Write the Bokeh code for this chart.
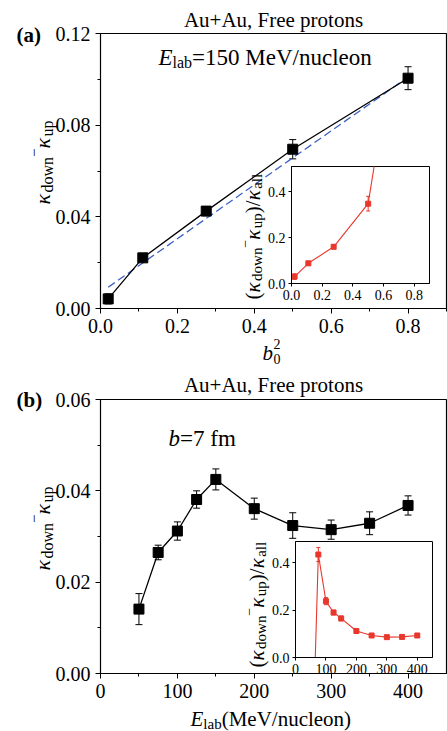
import math
from bokeh.plotting import figure
from bokeh.models import (ColumnDataSource, Whisker, TeeHead, Label, FixedTicker,
                          Range1d, NumeralTickFormatter)
from bokeh.layouts import column
from bokeh.embed import file_html
from bokeh.resources import INLINE

FONT = "Liberation Serif"
PAGE_W, PAGE_H = 447, 731
TEXT_DY = -6  # baseline correction of the text layer

# ---------------- data ----------------
# (a) centrality dependence at E_lab = 150 MeV/nucleon
b0sq = [0.02, 0.11, 0.275, 0.50, 0.80]
dk_b = [0.0042, 0.0221, 0.0425, 0.0695, 0.1005]
dk_b_err = [0.0022, 0.0016, 0.0020, 0.0042, 0.0050]
fit_b = [0.02, 0.80]
fit_dk = [0.0093, 0.1010]
ratio_b = [0.03, 0.088, 0.16, 0.348, 1.60]
ratio_b_err = [0.012, 0.008, 0.008, 0.032, 0.05]

# (b) beam-energy dependence at b = 7 fm
elab = [50, 75, 100, 125, 150, 200, 250, 300, 350, 400]
dk_e = [0.0141, 0.0265, 0.0312, 0.0381, 0.0425, 0.0361, 0.0324, 0.0315, 0.0329, 0.0368]
dk_e_err = [0.0034, 0.0016, 0.0020, 0.0019, 0.0023, 0.0023, 0.0028, 0.0021, 0.0025, 0.0021]
ratio_e = [-0.65, 0.435, 0.238, 0.19, 0.165, 0.112, 0.093, 0.086, 0.087, 0.093]
ratio_e_err = [0.05, 0.03, 0.015, 0.01, 0.01, 0.006, 0.006, 0.005, 0.005, 0.006]

# tick positions
xa_ticks, xa_minor = [0.0, 0.2, 0.4, 0.6, 0.8], [0.1, 0.3, 0.5, 0.7, 0.9]
ya_ticks, ya_minor = [0.0, 0.04, 0.08, 0.12], [0.02, 0.06, 0.10]
xb_ticks, xb_minor = [0, 100, 200, 300, 400], [50, 150, 250, 350]
yb_ticks, yb_minor = [0.0, 0.02, 0.04, 0.06], [0.01, 0.03, 0.05]
xa_in_ticks = [0.0, 0.2, 0.4, 0.6, 0.8]
xb_in_ticks = [0, 100, 200, 300, 400]
y_in_ticks = [0.0, 0.2, 0.4]

RED = "#e8372c"
BLUE = "#3d5fc4"
LEFT_BORDER, RIGHT_BORDER = 100, 1

# approximate advance widths (em) for serif text, used to chain text runs
ADV = {'0': .5, '1': .5, '2': .5, '5': .5, '7': .5, '.': .25, ',': .25, ' ': .25,
       '+': .564, '=': .564, '(': .333, ')': .333, '/': .278, 'A': .722, 'E': .611,
       'F': .556, 'M': .889, 'V': .722, 'a': .444, 'b': .5, 'c': .444, 'd': .5,
       'e': .444, 'f': .333, 'l': .278, 'm': .778, 'n': .5, 'o': .5, 'p': .5,
       'r': .333, 's': .389, 't': .278, 'u': .5, 'w': .722, '\u2212': .564, '\u03ba': .55}


def adv(text, size):
    return sum(ADV.get(c, .5) for c in text) * size


# ---------- text layer: a page-sized transparent canvas, data units = page pixels ----------
tp = figure(width=PAGE_W, height=PAGE_H,
            x_range=Range1d(0, PAGE_W), y_range=Range1d(0, PAGE_H),
            output_backend="svg", toolbar_location=None,
            x_axis_location=None, y_axis_location=None,
            min_border_left=0, min_border_right=0,
            min_border_top=0, min_border_bottom=0)
tp.grid.visible = False
tp.outline_line_color = None
tp.background_fill_alpha = 0
tp.border_fill_alpha = 0
tp.margin = (-PAGE_H, 0, 0, 0)


def put(px, py, text, size, style="normal", angle=0.0, align="left"):
    tp.add_layout(Label(x=px, y=PAGE_H - (py + TEXT_DY), text=text, text_font=FONT,
                        text_font_size=f"{size}px", text_font_style=style,
                        text_color="black", angle=angle, text_align=align,
                        text_baseline="alphabetic"))


def run(x0, y0, parts, vertical=False):
    """Chain text pieces (text, size, baseline shift, style) along one line."""
    pos = 0.0
    for text, size, shift, style in parts:
        if vertical:
            put(x0 + shift, y0 - pos, text, size, style, angle=math.pi / 2)
        else:
            put(x0 + pos, y0 + shift, text, size, style)
        pos += adv(text, size)


def run_length(parts):
    return sum(adv(t, s) for t, s, _, _ in parts)


def style_axes(p, xt, xm, yt, ym, xfmt, yfmt, size, tick_out, minor_out, standoff):
    p.xaxis.ticker = FixedTicker(ticks=xt, minor_ticks=xm)
    p.yaxis.ticker = FixedTicker(ticks=yt, minor_ticks=ym)
    p.xaxis.formatter = NumeralTickFormatter(format=xfmt)
    p.yaxis.formatter = NumeralTickFormatter(format=yfmt)
    for ax in (p.xaxis, p.yaxis):
        ax.major_label_text_font = FONT
        ax.major_label_text_font_size = f"{size}px"
        ax.major_label_text_color = "black"
        ax.major_tick_out = tick_out
        ax.major_tick_in = 0
        ax.minor_tick_out = minor_out
        ax.minor_tick_in = 0
        ax.major_tick_line_color = "black"
        ax.minor_tick_line_color = "black"
        ax.axis_line_color = "black"
        ax.major_label_standoff = standoff
    p.grid.visible = False
    p.outline_line_color = "black"
    p.outline_line_width = 1.2


def make_fig(width, height, top, bottom, xr, yr):
    p = figure(width=width, height=height, x_range=Range1d(*xr), y_range=Range1d(*yr),
               output_backend="svg", toolbar_location=None,
               min_border_left=LEFT_BORDER, min_border_right=RIGHT_BORDER,
               min_border_top=top, min_border_bottom=bottom)
    p.border_fill_alpha = 0
    p.background_fill_color = "white"
    return p


def errbars(p, x, y, e, color, head, width=1.0):
    src = ColumnDataSource(dict(x=x, lo=[a - b for a, b in zip(y, e)],
                                hi=[a + b for a, b in zip(y, e)]))
    p.add_layout(Whisker(source=src, base="x", lower="lo", upper="hi",
                         line_color=color, line_width=width,
                         upper_head=TeeHead(size=head, line_color=color, line_width=width),
                         lower_head=TeeHead(size=head, line_color=color, line_width=width)))


# ================= panel (a) =================
pa = make_fig(PAGE_W, 365, 33, 57, (0, 0.9), (0, 0.12))
pa.border_fill_color = "white"
pa.border_fill_alpha = 1
style_axes(pa, xa_ticks, xa_minor, ya_ticks, ya_minor, "0.0", "0.00", 20, 5, 3, 5)
pa.line(fit_b, fit_dk, line_color=BLUE, line_width=1.3, line_dash="8 4")
pa.line(b0sq, dk_b, line_color="black", line_width=1.3)
errbars(pa, b0sq, dk_b, dk_b_err, "black", 7)
pa.scatter(b0sq, dk_b, marker="square", size=10, color="black")

# inset (a): frame spans x 291..429, y 166..283 on the page
ia = make_fig(LEFT_BORDER + 138 + RIGHT_BORDER, 148, 5, 26, (0, 0.9), (0, 0.51))
style_axes(ia, xa_in_ticks, [], y_in_ticks, [], "0.0", "0.0", 14, 3, 0, 3)
ia.outline_line_width = 1.0
ia.line(b0sq, ratio_b, line_color=RED, line_width=1.1)
errbars(ia, b0sq, ratio_b, ratio_b_err, RED, 4)
ia.scatter(b0sq, ratio_b, marker="square", size=5, color=RED)
ia.margin = (161 - 365, 0, 0, 291 - LEFT_BORDER)

# ================= panel (b) =================
pb = make_fig(PAGE_W, 366, 34, 58, (0, 450), (0, 0.06))
pb.border_fill_color = "white"
pb.border_fill_alpha = 1
style_axes(pb, xb_ticks, xb_minor, yb_ticks, yb_minor, "0", "0.00", 20, 5, 3, 5)
pb.line(elab, dk_e, line_color="black", line_width=1.3)
errbars(pb, elab, dk_e, dk_e_err, "black", 7)
pb.scatter(elab, dk_e, marker="square", size=10, color="black")
pb.margin = (365 - (161 + 148), 0, 0, 0)

# inset (b): frame spans x 295..432, y 541..657 on the page
ib = make_fig(LEFT_BORDER + 137 + RIGHT_BORDER, 147, 5, 26, (0, 450), (0, 0.49))
style_axes(ib, xb_in_ticks, [], y_in_ticks, [], "0", "0.0", 14, 3, 0, 3)
ib.outline_line_width = 1.0
ib.line(elab, ratio_e, line_color=RED, line_width=1.1)
errbars(ib, elab, ratio_e, ratio_e_err, RED, 4)
ib.scatter(elab, ratio_e, marker="square", size=5, color=RED)
# bottom margin keeps the plot column exactly one page tall
ib.margin = (536 - PAGE_H, 0, PAGE_H - (536 + 147), 295 - LEFT_BORDER)

# ================= texts (page pixel positions) =================
ylab_main = [("\u03ba", 22, 0, "italic"), ("down", 16, 5, "normal"),
             ("\u2212", 15, -9, "normal"), ("\u03ba", 22, 0, "italic"),
             ("up", 16, 5, "normal")]
ylab_in = [("(", 21, 0, "normal"), ("\u03ba", 21, 0, "italic"), ("down", 15, 4, "normal"),
           ("\u2212", 14, -8, "normal"), ("\u03ba", 21, 0, "italic"), ("up", 15, 4, "normal"),
           (")", 21, 0, "normal"), ("/", 21, 0, "normal"), ("\u03ba", 21, 0, "italic"),
           ("all", 15, 4, "normal")]

# panel (a)
put(16, 40, "(a)", 21, "bold")
put(273, 25, "Au+Au, Free protons", 21, align="center")
run(158, 63, [("E", 23, 0, "italic"), ("lab", 16, 5, "normal"),
              ("=150 MeV/nucleon", 23, 0, "normal")])
run(42, 168 + run_length(ylab_main) / 2, ylab_main, vertical=True)
put(262, 358, "b", 21, "italic")
put(273, 349, "2", 14)
put(273, 364, "0", 14)
run(252, 305, ylab_in, vertical=True)

# panel (b)
put(16, 405, "(b)", 21, "bold")
put(273, 390, "Au+Au, Free protons", 21, align="center")
run(168, 444, [("b", 23, 0, "italic"), ("=7 fm", 23, 0, "normal")])
run(42, 534 + run_length(ylab_main) / 2, ylab_main, vertical=True)
run(190, 724, [("E", 21, 0, "italic"), ("lab", 15, 5, "normal"),
               ("(MeV/nucleon)", 21, 0, "normal")])
run(256, 673, ylab_in, vertical=True)

plots = column(pa, ia, pb, ib, spacing=0)
# the transparent text layer is a second root drawn over the plots
open("out.html", "w").write(file_html([plots, tp], INLINE))
